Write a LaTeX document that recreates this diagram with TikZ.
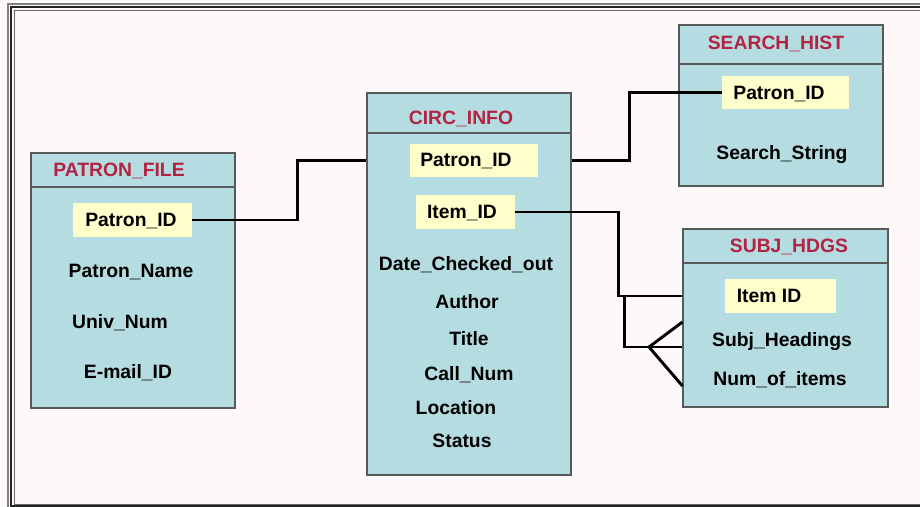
\documentclass[tikz,border=0pt]{standalone}
\usepackage{fontspec}
\setmainfont{Liberation Sans}
\usepackage{xcolor}
\usepackage{tikz}
\usetikzlibrary{fit}
\definecolor{tablecyan}{HTML}{B5DCE1}
\definecolor{titlered}{HTML}{B32342}
\definecolor{keyyellow}{HTML}{FFFFCC}
\definecolor{pagepink}{HTML}{FDF9FA}

\begin{document}
\begin{tikzpicture}[x=0.03cm, y=-0.03cm,
  tablebox/.style={draw=black!65, line width=0.9pt, fill=tablecyan, inner sep=0pt},
  keybox/.style={fill=keyyellow, inner sep=0pt},
  field/.style={font=\fontsize{16.5}{20}\selectfont\bfseries, text height=11.8pt, text depth=0pt, inner sep=0pt},
  tabletitle/.style={field, text=titlered},
  link/.style={line width=2.5pt, black}]
\clip (0,0) rectangle (920,507);
\fill[pagepink] (0,0) rectangle (920,507);
\draw[black!50, line width=1.8pt] (8,4) rectangle (940,509);
\draw[black!85, line width=1pt] (11,7) rectangle (937,506);
\draw[black!60, line width=0.7pt] (14,10) rectangle (934,504);

% PATRON_FILE
\node[tablebox, fit={(31,153) (235,408)}] (pf) {};
\draw[black!65, line width=0.9pt] (pf.west |- 0,187) -- (pf.east |- 0,187);
\node[tabletitle] (pftitle) at (119,170) {PATRON\_FILE};
\node[keybox, fit={(73,203) (192,237)}] (pfkey) {};
\node[field] (pfid) at (131,220) {Patron\_ID};
\node[field] (pfname) at (131,271) {Patron\_Name};
\node[field] (pfuniv) at (120,322) {Univ\_Num};
\node[field] (pfmail) at (128,372) {E-mail\_ID};

% CIRC_INFO
\node[tablebox, fit={(367,93) (571,475)}] (circ) {};
\draw[black!65, line width=0.9pt] (circ.west |- 0,133) -- (circ.east |- 0,133);
\node[tabletitle] (circtitle) at (461,118) {CIRC\_INFO};
\node[keybox, fit={(410,144) (538,177)}] (ckeya) {};
\node[field] (cpid) at (466,160) {Patron\_ID};
\node[keybox, fit={(416,195) (515,229)}] (ckeyb) {};
\node[field] (citem) at (462,212) {Item\_ID};
\node[field] (cdate) at (466,264) {Date\_Checked\_out};
\node[field] (cauth) at (467,302) {Author};
\node[field] (ctitle) at (469,339) {Title};
\node[field] (ccall) at (469,374) {Call\_Num};
\node[field] (cloc) at (456,408) {Location};
\node[field] (cstat) at (462,441) {Status};

% SEARCH_HIST
\node[tablebox, fit={(679,25) (883,186)}] (sh) {};
\draw[black!65, line width=0.9pt] (sh.west |- 0,64) -- (sh.east |- 0,64);
\node[tabletitle] (shtitle) at (776,43) {SEARCH\_HIST};
\node[keybox, fit={(722,76) (849,109)}] (shkey) {};
\node[field] (shid) at (779,93) {Patron\_ID};
\node[field] (shstr) at (782,153) {Search\_String};

% SUBJ_HDGS
\node[tablebox, fit={(683,229) (888,407)}] (sj) {};
\draw[black!65, line width=0.9pt] (sj.west |- 0,263) -- (sj.east |- 0,263);
\node[tabletitle] (sjtitle) at (789,246) {SUBJ\_HDGS};
\node[keybox, fit={(725,279) (836,313)}] (sjkey) {};
\node[field] (sjid) at (769,296) {Item ID};
\node[field] (sjhead) at (782,340) {Subj\_Headings};
\node[field] (sjnum) at (780,379) {Num\_of\_items};

% links
\draw[link] (pfkey.east) -- ++(105,0) |- (circ.west |- ckeya);
\draw[link] (circ.east |- ckeya) -- ++(58,0) |- (shkey.west);
\draw[link] (ckeyb.east) -- ++(103,0) |- (sj.west |- sjkey);
\coordinate (fork) at (624.5,296);
\coordinate (crow) at (649,347);
\draw[link] (fork) |- (sj.west |- 0,347);
\draw[link] (sj.west |- 0,322) -- (crow) -- (sj.west |- 0,386);
\end{tikzpicture}
\end{document}
